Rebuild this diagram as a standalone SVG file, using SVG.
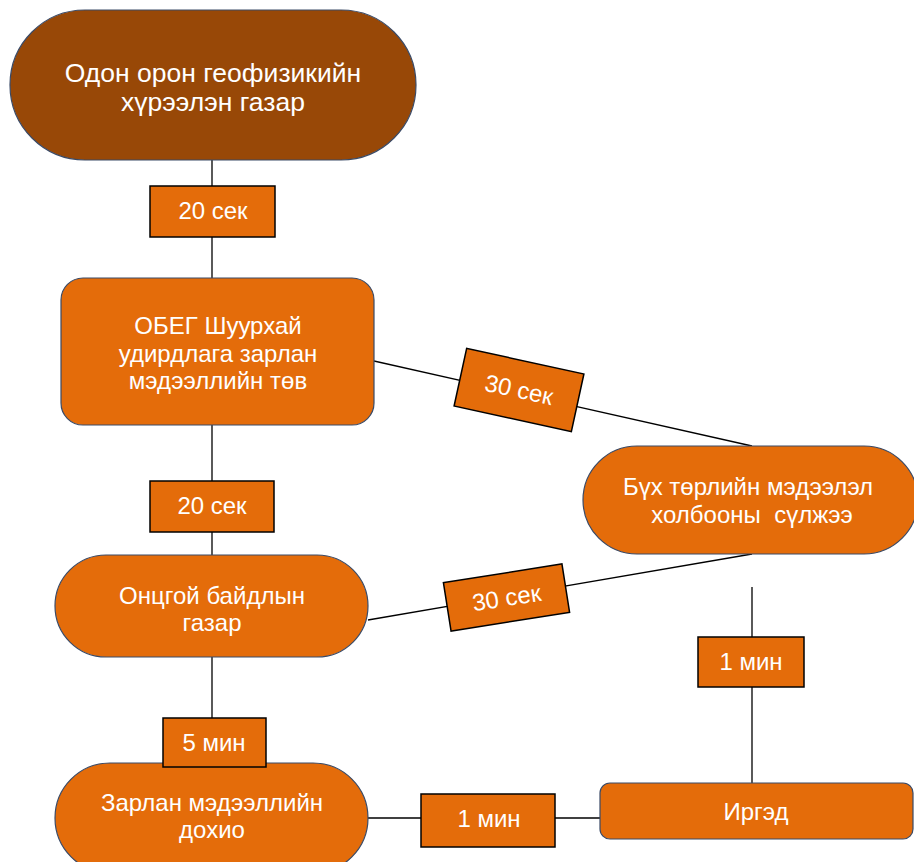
<svg xmlns="http://www.w3.org/2000/svg" width="914" height="862" viewBox="0 0 914 862">
<style>
.node{fill:#E46C0A;stroke:#3A4A66;stroke-width:1.2}
.brown{fill:#984807}
.lbl{fill:#E46C0A;stroke:#000;stroke-width:1.5}
.t{font-family:"Liberation Sans",Arial,sans-serif;fill:#fff;text-anchor:middle}
.big{font-size:26.5px}
.sm{font-size:24px}
.conn line{stroke:#000;stroke-width:1.3}
</style>
<rect width="914" height="862" fill="#fff"/>
<g id="connectors" class="conn">
<line x1="212" y1="160" x2="212" y2="278"/>
<line x1="212" y1="425" x2="212" y2="555"/>
<line x1="212" y1="657" x2="212" y2="763"/>
<line x1="374" y1="361" x2="752" y2="446"/>
<line x1="368" y1="620" x2="752" y2="554"/>
<line x1="752" y1="587" x2="752" y2="783"/>
<line x1="368" y1="818" x2="600" y2="818"/>
</g>
<g id="node-odon">
<rect class="node brown" x="10" y="10" width="406" height="150" rx="75"/>
<text class="t big" x="213" y="82">Одон орон геофизикийн</text>
<text class="t big" x="213" y="111">хүрээлэн газар</text>
</g>
<g id="node-obeg">
<rect class="node" x="61" y="278" width="313" height="147" rx="22"/>
<text class="t sm" x="218" y="334">ОБЕГ Шуурхай</text>
<text class="t sm" x="218" y="362">удирдлага зарлан</text>
<text class="t sm" x="218" y="389">мэдээллийн төв</text>
</g>
<g id="node-ontsgoi">
<rect class="node" x="55" y="555" width="313" height="102" rx="51"/>
<text class="t sm" x="212" y="604">Онцгой байдлын</text>
<text class="t sm" x="212" y="631">газар</text>
</g>
<g id="node-zarlan">
<rect class="node" x="55" y="763" width="313" height="110" rx="55"/>
<text class="t sm" x="212" y="811">Зарлан мэдээллийн</text>
<text class="t sm" x="212" y="838">дохио</text>
</g>
<g id="node-buh">
<rect class="node" x="583" y="446" width="335" height="108" rx="54"/>
<text class="t sm" x="748" y="495">Бүх төрлийн мэдээлэл</text>
<text class="t sm" x="752" y="523">холбооны&#160; сүлжээ</text>
</g>
<g id="node-irged">
<rect class="node" x="600" y="783" width="313" height="56" rx="10"/>
<text class="t sm" x="756" y="820">Иргэд</text>
</g>
<g id="label-20a">
<rect class="lbl" x="150" y="186" width="125" height="51"/>
<text class="t sm" x="213" y="219">20 сек</text>
</g>
<g id="label-20b">
<rect class="lbl" x="150" y="481" width="124" height="51"/>
<text class="t sm" x="212" y="514">20 сек</text>
</g>
<g id="label-5min">
<rect class="lbl" x="163" y="718" width="103" height="49"/>
<text class="t sm" x="214" y="751">5 мин</text>
</g>
<g id="label-30a" transform="rotate(12.3 519 390)">
<rect class="lbl" x="459" y="360.5" width="120" height="59"/>
<text class="t sm" x="519" y="398">30 сек</text>
</g>
<g id="label-30b" transform="rotate(-9 506.5 597.5)">
<rect class="lbl" x="446.5" y="573" width="120" height="49"/>
<text class="t sm" x="506.5" y="606">30 сек</text>
</g>
<g id="label-1min-v">
<rect class="lbl" x="698" y="637" width="106" height="50"/>
<text class="t sm" x="751" y="670">1 мин</text>
</g>
<g id="label-1min-h">
<rect class="lbl" x="421" y="794" width="134" height="53"/>
<text class="t sm" x="489" y="827">1 мин</text>
</g>
</svg>
